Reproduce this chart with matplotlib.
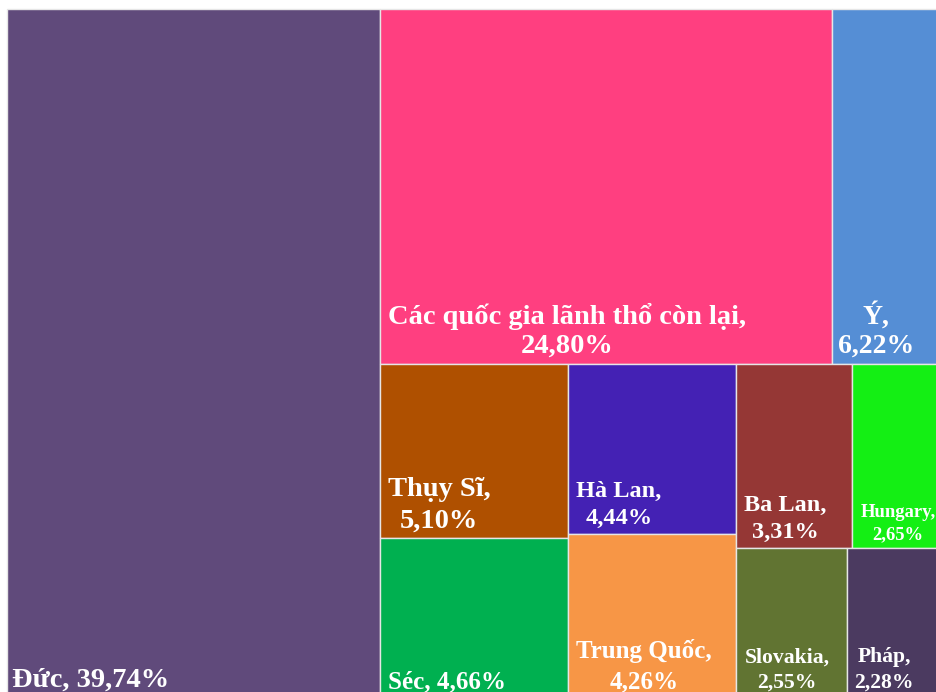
"""Treemap: cơ cấu thị trường (tỷ trọng %), vẽ bằng matplotlib."""
import matplotlib
matplotlib.use("Agg")
import matplotlib.pyplot as plt
from matplotlib.patches import Rectangle

# ---- data ---------------------------------------------------------------
names = ["Đức", "Các quốc gia lãnh thổ còn lại", "Ý", "Thụy Sĩ", "Séc",
         "Hà Lan", "Trung Quốc", "Ba Lan", "Hungary", "Slovakia", "Pháp"]
shares = [39.74, 24.80, 6.22, 5.10, 4.66, 4.44, 4.26, 3.31, 2.65, 2.55, 2.28]
# how the tiles are nested (slice-and-dice, direction alternates by depth)
layout = ("Đức",
          (("Các quốc gia lãnh thổ còn lại", "Ý"),
           (("Thụy Sĩ", "Séc"),
            ("Hà Lan", "Trung Quốc"),
            (("Ba Lan", "Hungary"), ("Slovakia", "Pháp")))))

# ---- style --------------------------------------------------------------
colors = {"Đức": "#604A7B", "Các quốc gia lãnh thổ còn lại": "#FF3F80",
          "Ý": "#558ED5", "Thụy Sĩ": "#AF5000", "Séc": "#00B050",
          "Hà Lan": "#4421B4", "Trung Quốc": "#F79646", "Ba Lan": "#953735",
          "Hungary": "#14EF14", "Slovakia": "#617432", "Pháp": "#4B3A60"}
# label text: one line or two lines
two_line = {"Các quốc gia lãnh thổ còn lại", "Ý", "Thụy Sĩ", "Hà Lan",
            "Trung Quốc", "Ba Lan", "Hungary", "Slovakia", "Pháp"}
# font size (pt) and line spacing per label, like PowerPoint autofit
fsize = {"Đức": 20.5, "Các quốc gia lãnh thổ còn lại": 20.5, "Ý": 20,
         "Thụy Sĩ": 20.5, "Séc": 18, "Hà Lan": 17.5, "Trung Quốc": 18,
         "Ba Lan": 17.5, "Hungary": 13.4, "Slovakia": 15.6, "Pháp": 15.6}
lspace = {"Các quốc gia lãnh thổ còn lại": 1.18, "Ý": 1.22, "Thụy Sĩ": 1.33,
          "Hà Lan": 1.42, "Trung Quốc": 1.38, "Ba Lan": 1.38, "Hungary": 1.38,
          "Slovakia": 1.38, "Pháp": 1.38}
xpad = {"Đức": 5, "Ý": 6}
FONT = ["Liberation Serif", "DejaVu Serif"]

value = dict(zip(names, shares))


def total(node):
    if isinstance(node, str):
        return value[node]
    return sum(total(c) for c in node)


def place(node, x, y, w, h, depth, out):
    if isinstance(node, str):
        out[node] = (x, y, w, h)
        return
    s = total(node)
    for child in node:
        f = total(child) / s
        if depth % 2 == 0:          # split horizontally
            place(child, x, y, w * f, h, depth + 1, out)
            x += w * f
        else:                       # split vertically
            place(child, x, y, w, h * f, depth + 1, out)
            y += h * f


W, H = 937, 692
fig = plt.figure(figsize=(W / 100, H / 100), dpi=100)
ax = fig.add_axes([0, 0, 1, 1])
ax.set_xlim(0, W)
ax.set_ylim(H, 0)
ax.axis("off")

rects = {}
place(layout, 7, 9, 938, 689, 0, rects)

for name in names:
    x, y, w, h = rects[name]
    ax.add_patch(Rectangle((x, y), w, h, facecolor=colors[name],
                           edgecolor="#e6e6e6", linewidth=1.0))
    pct = f"{value[name]:.2f}".replace(".", ",") + "%"
    label = f"{name},\n{pct}" if name in two_line else f"{name}, {pct}"
    ax.text(x + xpad.get(name, 8), y + h - 5, label, ha="left", va="bottom",
            multialignment="center", color="white", fontsize=fsize[name],
            fontweight="bold", family=FONT, linespacing=lspace.get(name, 1.2))

fig.savefig("out.png", dpi=100)
